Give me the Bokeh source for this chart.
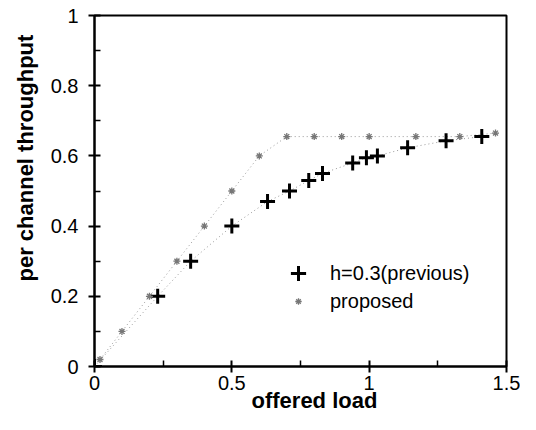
from bokeh.plotting import figure
from bokeh.models import Range1d, FixedTicker, Legend, LegendItem, Title
from bokeh.embed import file_html
from bokeh.resources import INLINE

# ---- data ----
prev_x = [0.0, 0.23, 0.35, 0.5, 0.63, 0.71, 0.78, 0.83, 0.94, 0.99, 1.03, 1.14, 1.28, 1.41]
prev_y = [0.0, 0.2, 0.3, 0.4, 0.47, 0.5, 0.53, 0.55, 0.58, 0.595, 0.6, 0.623, 0.643, 0.655]
prop_x = [0.02, 0.1, 0.2, 0.3, 0.4, 0.5, 0.6, 0.7, 0.8, 0.9, 1.0, 1.17, 1.33, 1.46]
prop_y = [0.02, 0.1, 0.2, 0.3, 0.4, 0.5, 0.6, 0.655, 0.655, 0.655, 0.655, 0.655, 0.655, 0.665]

x_ticks = [0, 0.5, 1, 1.5]
x_tick_labels = ["0", "0.5", "1", "1.5"]
x_minor = [0.25, 0.75, 1.25]
y_ticks = [0, 0.2, 0.4, 0.6, 0.8, 1]
y_tick_labels = ["0", "0.2", "0.4", "0.6", "0.8", "1"]
y_minor = [0.1, 0.3, 0.5, 0.7, 0.9]

series_names = ["h=0.3(previous)", "proposed"]
x_title = "offered load"
y_title = "per channel throughput"

FONT = "Liberation Sans"

p = figure(width=520, height=414, output_backend="svg", toolbar_location=None,
           x_range=Range1d(0, 1.5), y_range=Range1d(0, 1),
           min_border_left=92, min_border_right=14, min_border_top=15, min_border_bottom=48)
p.background_fill_color = "white"
p.border_fill_color = "white"
p.outline_line_color = "black"
p.outline_line_width = 2
p.xgrid.visible = False
p.ygrid.visible = False

# axes
p.xaxis.ticker = FixedTicker(ticks=x_ticks, minor_ticks=x_minor)
p.yaxis.ticker = FixedTicker(ticks=y_ticks, minor_ticks=y_minor)
p.xaxis.major_label_overrides = {t: l for t, l in zip(x_ticks, x_tick_labels)}
p.yaxis.major_label_overrides = {t: l for t, l in zip(y_ticks, y_tick_labels)}
for ax in (p.xaxis, p.yaxis):
    ax.axis_line_width = 2
    ax.axis_line_color = "black"
    ax.major_tick_line_width = 2
    ax.major_tick_line_color = "black"
    ax.major_tick_in = 6
    ax.major_tick_out = 6
    ax.minor_tick_line_width = 1.5
    ax.minor_tick_line_color = "black"
    ax.minor_tick_in = 6
    ax.minor_tick_out = 0
    ax.major_label_text_font = FONT
    ax.major_label_text_font_size = "20px"
    ax.major_label_text_color = "black"
p.yaxis.major_label_standoff = 10
p.xaxis.major_label_standoff = 3

# lines (dotted, light gray)
p.line(prev_x, prev_y, line_color="#999999", line_width=1, line_dash="1 3")
p.line(prop_x, prop_y, line_color="#999999", line_width=1, line_dash="1 3")

# markers
r_prev = p.scatter(prev_x, prev_y, marker="cross", size=15, line_color="black", line_width=3)
r_prop = p.scatter(prop_x, prop_y, marker="asterisk", size=7, line_color="#777777", line_width=1.3)

common = dict(padding=0, margin=0, spacing=0, label_text_font=FONT,
              label_text_font_size="20px", label_text_color="black",
              border_line_color=None, background_fill_alpha=0)
leg1 = Legend(items=[LegendItem(label=series_names[0], renderers=[r_prev])],
              location=(185, 74), glyph_width=38, glyph_height=38, label_standoff=13, **common)
leg2 = Legend(items=[LegendItem(label=series_names[1], renderers=[r_prop])],
              location=(196, 53), glyph_width=16, glyph_height=24, label_standoff=24, **common)
p.add_layout(leg1)
p.add_layout(leg2)

# axis titles
p.add_layout(Title(text=y_title, align="left", offset=85, standoff=20, vertical_align="bottom",
                   text_font=FONT, text_font_style="bold", text_font_size="22px",
                   text_color="black"), "left")
p.add_layout(Title(text=x_title, align="left", offset=157, standoff=-10, vertical_align="top",
                   text_font=FONT, text_font_style="bold", text_font_size="22px",
                   text_color="black"), "below")

open("out.html", "w").write(file_html(p, INLINE))
